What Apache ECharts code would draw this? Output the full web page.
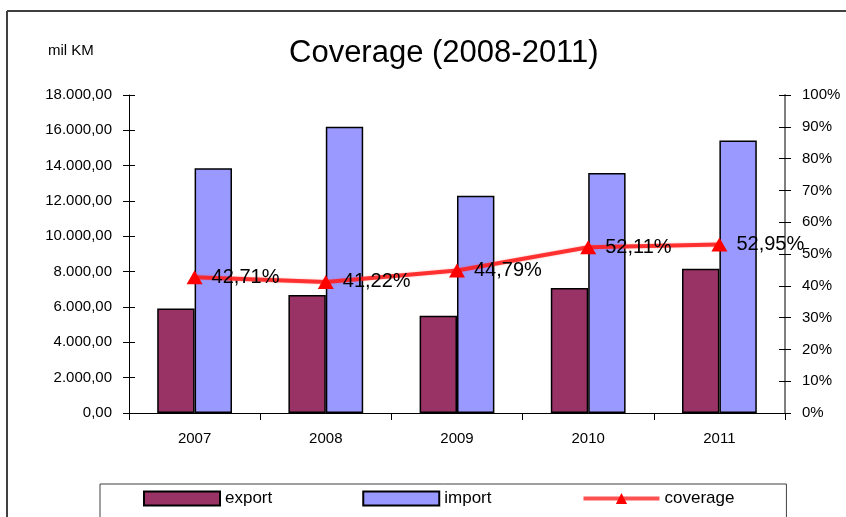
<!DOCTYPE html>
<html>
<head>
<meta charset="utf-8">
<script src="https://cdn.jsdelivr.net/npm/echarts@6/dist/echarts.min.js"></script>
<style>
  html, body { margin: 0; padding: 0; background: #fff; }
  #chart { width: 846px; height: 517px; }
</style>
</head>
<body>
<div id="chart"></div>
<script>
// Yearly trade figures (mil KM) and export/import coverage ratio
const categories = ['2007', '2008', '2009', '2010', '2011'];
const exportVals = [5915, 6678, 5509, 7077, 8170];
const importVals = [13850, 16200, 12300, 13580, 15430];
const coverage = [42.71, 41.22, 44.79, 52.11, 52.95];

const FONT = '"Liberation Sans", Arial, sans-serif';

// 18000 -> "18.000,00"
function kmFormat(v) {
  const parts = Math.round(v).toString().replace(/\B(?=(\d{3})+(?!\d))/g, '.');
  return parts + ',00';
}
function pctFormat(v) {
  return v.toFixed(2).replace('.', ',') + '%';
}

const chart = echarts.init(document.getElementById('chart'), null, { renderer: 'canvas' });

const grid = { left: 129, right: 61, top: 95, bottom: 104 };

chart.setOption({
  backgroundColor: '#ffffff',
  animation: false,
  textStyle: { fontFamily: FONT, color: '#000' },
  title: [
    {
      text: 'Coverage (2008-2011)',
      left: 284, top: 33,
      textStyle: { fontFamily: FONT, fontSize: 31, fontWeight: 'normal', color: '#000' }
    },
    {
      text: 'mil KM',
      left: 43, top: 38,
      textStyle: { fontFamily: FONT, fontSize: 15, fontWeight: 'normal', color: '#000' }
    }
  ],
  legend: {
    left: 100, top: 484,
    padding: [6, 52, 40, 43],
    borderColor: '#404040', borderWidth: 1,
    itemWidth: 76, itemHeight: 14, itemGap: 90,
    lineStyle: { width: 4, color: '#ff3333' },
    textStyle: { fontFamily: FONT, fontSize: 17, color: '#000' },
    data: [
      { name: 'export', icon: 'rect' },
      { name: 'import', icon: 'rect' },
      { name: 'coverage' }
    ]
  },
  grid: grid,
  xAxis: {
    type: 'category',
    data: categories,
    boundaryGap: true,
    axisLine: { lineStyle: { color: '#000', width: 1 } },
    axisTick: { show: true, length: 7, lineStyle: { color: '#000' } },
    axisLabel: { fontFamily: FONT, fontSize: 15, color: '#000', margin: 18 },
    splitLine: { show: false }
  },
  yAxis: [
    {
      type: 'value', position: 'left', min: 0, max: 18000, interval: 2000,
      axisLine: { show: true, lineStyle: { color: '#000', width: 1 } },
      axisTick: { show: true, length: 6, lineStyle: { color: '#000' } },
      axisLabel: { fontFamily: FONT, fontSize: 15, color: '#000', margin: 17, formatter: kmFormat },
      splitLine: { show: false }
    },
    {
      type: 'value', position: 'right', min: 0, max: 100, interval: 10,
      axisLine: { show: true, lineStyle: { color: '#7f7f7f', width: 2 } },
      axisTick: { show: true, length: 6, lineStyle: { color: '#000' } },
      axisLabel: { fontFamily: FONT, fontSize: 15, color: '#000', margin: 17, formatter: '{value}%' },
      splitLine: { show: false }
    },
    {
      // inner half of the crossing ticks on the left axis
      type: 'value', position: 'left', min: 0, max: 18000, interval: 2000,
      axisLine: { show: false },
      axisTick: { show: true, inside: true, length: 6, lineStyle: { color: '#000' } },
      axisLabel: { show: false },
      splitLine: { show: false }
    },
    {
      // inner half of the crossing ticks on the right axis
      type: 'value', position: 'right', min: 0, max: 100, interval: 10,
      axisLine: { show: false },
      axisTick: { show: true, inside: true, length: 6, lineStyle: { color: '#000' } },
      axisLabel: { show: false },
      splitLine: { show: false }
    }
  ],
  series: [
    {
      name: 'export', type: 'bar', yAxisIndex: 0,
      data: exportVals,
      barGap: '0%', barCategoryGap: '43%',
      itemStyle: { color: '#993366', borderColor: '#000', borderWidth: 1.5 }
    },
    {
      name: 'import', type: 'bar', yAxisIndex: 0,
      data: importVals,
      barGap: '0%', barCategoryGap: '43%',
      itemStyle: { color: '#9999ff', borderColor: '#000', borderWidth: 1.5 }
    },
    {
      name: 'coverage', type: 'line', yAxisIndex: 1,
      data: coverage,
      z: 5,
      symbol: 'triangle', symbolSize: [16, 14],
      itemStyle: { color: '#ff0000' },
      lineStyle: { color: '#ff1a1a', width: 4, opacity: 0.85, shadowColor: 'rgba(255,80,80,0.6)', shadowBlur: 2 },
      label: {
        show: true, position: 'right', distance: 9,
        fontFamily: FONT, fontSize: 20, color: '#000',
        formatter: p => pctFormat(p.value)
      }
    }
  ],
  graphic: [
    // outer frame of the chart area
    { type: 'line', shape: { x1: 7, y1: 11, x2: 846, y2: 11 }, style: { stroke: '#404040', lineWidth: 2 }, silent: true },
    { type: 'line', shape: { x1: 7, y1: 11, x2: 7, y2: 517 }, style: { stroke: '#404040', lineWidth: 2 }, silent: true }
  ]
});
</script>
</body>
</html>
